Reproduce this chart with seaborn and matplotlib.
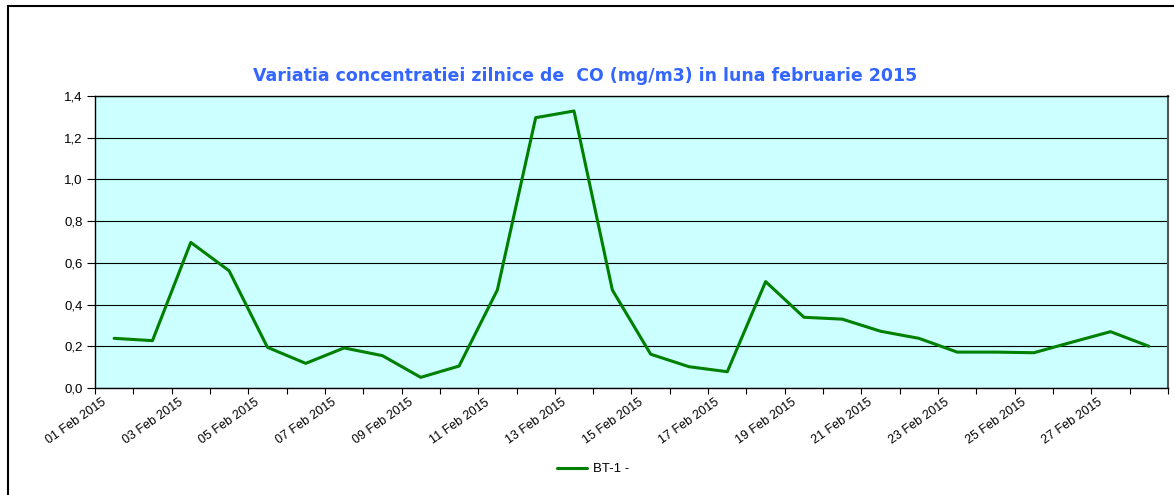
#!/usr/bin/env python3

import numpy as np
import pandas as pd
import seaborn as sns
from matplotlib import pyplot as plt
from matplotlib.patches import Rectangle

title = "Variatia concentratiei zilnice de  CO (mg/m3) in luna februarie 2015"
series_name = "BT-1 -"
days = [f"{d:02d} Feb 2015" for d in range(1, 29)]
co_values = [
    0.238, 0.227, 0.698, 0.562, 0.195, 0.118, 0.192, 0.155, 0.051, 0.105,
    0.470, 1.296, 1.328, 0.470, 0.162, 0.102, 0.078, 0.510, 0.339, 0.330,
    0.272, 0.238, 0.172, 0.172, 0.169, 0.220, 0.270, 0.200,
]
y_ticks = [0.0, 0.2, 0.4, 0.6, 0.8, 1.0, 1.2, 1.4]

df = pd.DataFrame({"Day": days, "CO": co_values, "Series": series_name})

sns.set_theme(style="white", rc={"text.color": "black", "xtick.color": "black",
                                 "ytick.color": "black"})
plt.rcParams["font.family"] = ["Liberation Sans", "DejaVu Sans"]

fig = plt.figure(figsize=(11.74, 4.95), dpi=100)
ax = fig.add_axes([0.0809, 0.2162, 0.9140, 0.5899])

ax.set_facecolor("#CCFFFF")
sns.lineplot(data=df, x="Day", y="CO", hue="Series", palette=["#008000"],
             linewidth=2.2, ax=ax, legend=True, sort=False)

n = len(days)
ax.set_xlim(-0.5, n - 0.5)
ax.set_ylim(0, 1.4)
ax.set_yticks(y_ticks)
ax.set_yticklabels([f"{v:.1f}".replace(".", ",") for v in y_ticks], fontsize=9.5)

# tick marks on category edges, labels nudged a little to the right (as in Excel)
edges = np.arange(n + 1) - 0.5
ax.set_xticks(edges)
ax.set_xticklabels([])
label_pos = edges[:-1:2] + 0.17
ax.set_xticks(label_pos, minor=True)
ax.set_xticklabels(days[::2], minor=True, rotation=35, ha="right",
                   rotation_mode="anchor", fontsize=9)

ax.tick_params(axis="x", which="major", direction="out", length=4, width=0.8,
               color="black", bottom=True)
ax.tick_params(axis="x", which="minor", length=0, pad=6, bottom=True)
ax.tick_params(axis="y", direction="out", length=6, width=0.8, color="black",
               left=True, pad=3)
ax.set_xlabel("")
ax.set_ylabel("")

ax.grid(axis="y", color="black", linewidth=0.8)
ax.grid(axis="x", visible=False)
for side in ["left", "bottom", "top"]:
    ax.spines[side].set_color("black")
    ax.spines[side].set_linewidth(1.0)
ax.spines["right"].set_color("#555555")
ax.spines["right"].set_linewidth(1.5)

fig.text(0.498, 0.846, title, ha="center", va="center", color="#3366FF",
         fontsize=12.5, fontweight="bold", family="DejaVu Sans")

handles, labels = ax.get_legend_handles_labels()
ax.legend(handles, labels, loc="center", bbox_to_anchor=(0.505, 0.052),
          bbox_transform=fig.transFigure, frameon=False, fontsize=9.5,
          handlelength=2.3, handletextpad=0.4)

fig.patches.append(Rectangle((0.0064, -0.01), 1.1, 0.998, transform=fig.transFigure,
                             fill=False, edgecolor="black", linewidth=1.5))

fig.savefig("out.png", dpi=100, facecolor="white")
